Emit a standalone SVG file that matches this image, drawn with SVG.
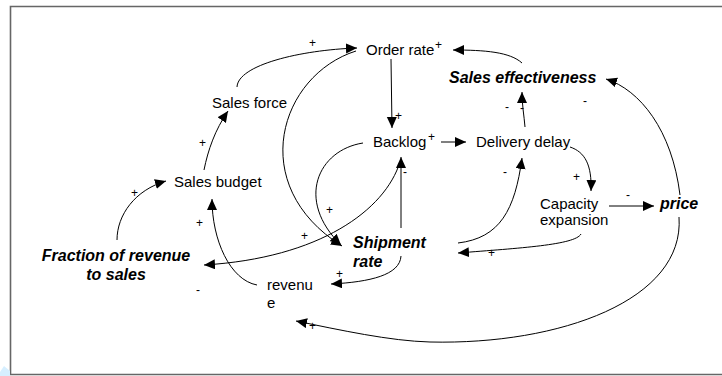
<svg xmlns="http://www.w3.org/2000/svg" width="722" height="376" viewBox="0 0 722 376">
<defs>
<marker id="ah" markerUnits="userSpaceOnUse" markerWidth="14" markerHeight="12" refX="11" refY="5" orient="auto">
<path d="M0,0 L11,5 L0,10 Z" fill="#000"/>
</marker>
<style>
text{font-family:"Liberation Sans",Arial,sans-serif;font-size:15px;fill:#000}
.bi{font-weight:bold;font-style:italic;font-size:16px}
.s{font-size:12px}
.c{fill:none;stroke:#000;stroke-width:1;marker-end:url(#ah)}
.frame{fill:none;stroke:#666;stroke-width:1.6}
</style>
</defs>
<rect width="722" height="376" fill="#fff"/>
<path class="frame" d="M722,6.5 H10.5 V374.5 H722"/>
<path d="M0,376 L0,372 L4,366 L10,371 L10,376 Z" fill="#d6efff"/>

<g id="connectors">
<path class="c" d="M237,87 C238,65 300,50 357,48"/>
<path class="c" d="M356,51 C280,75 245,185 342,246"/>
<path class="c" d="M522,63 C510,52 485,50 453,50"/>
<path class="c" d="M391,59 L392,128"/>
<path class="c" d="M441,142 L466,142"/>
<path class="c" d="M525,127 C524,115 522,105 522,92"/>
<path class="c" d="M680,195 C672,130 640,90 606,79"/>
<path class="c" d="M679,217 C685,300 560,345 430,342 C390,341 340,330 296,321"/>
<path class="c" d="M570,147 C585,152 592,165 591,191"/>
<path class="c" d="M609,206 L654,206"/>
<path class="c" d="M581,234 C575,245 520,248 458,253"/>
<path class="c" d="M458,243 C500,238 515,210 522,158"/>
<path class="c" d="M401,228 L401,157"/>
<path class="c" d="M363,143 C318,150 295,200 341,245"/>
<path class="c" d="M400,162 C385,210 320,258 204,265"/>
<path class="c" d="M257,285 C230,280 212,240 212,199"/>
<path class="c" d="M401,256 C400,275 370,282 331,284"/>
<path class="c" d="M117,240 C117,215 135,190 166,181"/>
<path class="c" d="M204,170 C208,150 215,130 228,111"/>
</g>

<g id="order-rate"><text x="366" y="55">Order rate</text></g>
<g id="sales-effectiveness"><text class="bi" x="449" y="83">Sales effectiveness</text></g>
<g id="sales-force"><text x="212" y="108">Sales force</text></g>
<g id="backlog"><text x="373" y="147">Backlog</text></g>
<g id="delivery-delay"><text x="476" y="147">Delivery delay</text></g>
<g id="sales-budget"><text x="174" y="187">Sales budget</text></g>
<g id="capacity-expansion"><text x="540" y="209">Capacity</text><text x="540" y="225">expansion</text></g>
<g id="price"><text class="bi" x="660" y="209">price</text></g>
<g id="fraction-of-revenue"><text class="bi" x="116" y="261" text-anchor="middle">Fraction of revenue</text><text class="bi" x="116" y="280" text-anchor="middle">to sales</text></g>
<g id="shipment-rate"><text class="bi" x="353" y="248">Shipment</text><text class="bi" x="353" y="267">rate</text></g>
<g id="revenue"><text x="267" y="290">revenu</text><text x="267" y="308">e</text></g>

<g id="signs">
<text class="s" x="309" y="47">+</text>
<text class="s" x="435" y="49">+</text>
<text class="s" x="395" y="120">+</text>
<text class="s" x="428" y="141">+</text>
<text class="s" x="505" y="111">-</text>
<text class="s" x="520" y="112">-</text>
<text class="s" x="583" y="105">-</text>
<text class="s" x="503" y="176">-</text>
<text class="s" x="573" y="181">+</text>
<text class="s" x="403" y="176">-</text>
<text class="s" x="626" y="199">-</text>
<text class="s" x="488" y="257">+</text>
<text class="s" x="131" y="197">+</text>
<text class="s" x="199" y="147">+</text>
<text class="s" x="196" y="227">+</text>
<text class="s" x="196" y="294">-</text>
<text class="s" x="326" y="214">+</text>
<text class="s" x="301" y="240">+</text>
<text class="s" x="336" y="278">+</text>
<text class="s" x="309" y="330">+</text>
</g>
</svg>
